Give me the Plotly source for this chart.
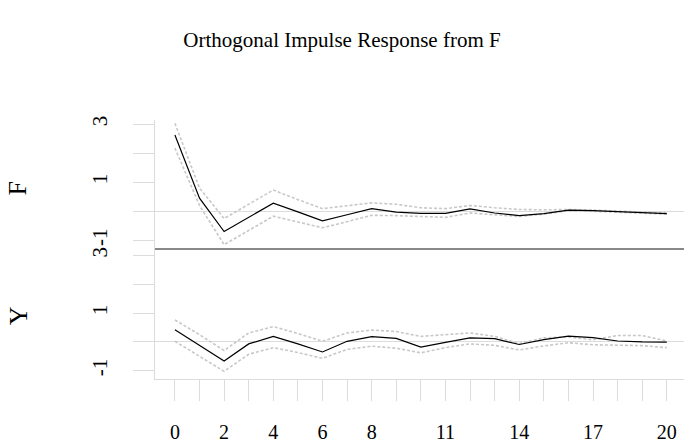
import plotly.graph_objects as go

horizon = list(range(21))

f_resp = [2.63, 0.45, -0.70, -0.21, 0.28, -0.02, -0.33, -0.12, 0.09, -0.03,
          -0.07, -0.07, 0.08, -0.06, -0.15, -0.08, 0.04, 0.02, -0.02, -0.05, -0.08]
f_upper = [3.03, 0.80, -0.25, 0.24, 0.73, 0.40, 0.09, 0.19, 0.29, 0.24,
           0.12, 0.09, 0.20, 0.12, 0.06, 0.05, 0.06, 0.04, 0.00, -0.03, -0.06]
f_lower = [2.18, 0.20, -1.15, -0.66, -0.17, -0.37, -0.57, -0.36, -0.14, -0.15,
           -0.19, -0.21, -0.06, -0.12, -0.18, -0.10, 0.02, 0.00, -0.04, -0.07, -0.10]

y_resp = [0.42, -0.11, -0.66, -0.07, 0.19, -0.07, -0.35, 0.02, 0.18, 0.12,
          -0.18, -0.02, 0.14, 0.11, -0.09, 0.08, 0.20, 0.15, 0.03, 0.00, -0.01]
y_upper = [0.76, 0.25, -0.30, 0.31, 0.53, 0.29, 0.02, 0.31, 0.41, 0.36,
           0.19, 0.25, 0.31, 0.19, -0.06, 0.14, 0.17, 0.07, 0.22, 0.22, 0.03]
y_lower = [0.02, -0.50, -1.02, -0.43, -0.20, -0.37, -0.57, -0.26, -0.15, -0.22,
           -0.38, -0.20, -0.07, -0.12, -0.28, -0.14, -0.03, -0.10, -0.12, -0.13, -0.20]

y_tickvals = [-1, 0, 1, 2, 3]
y_ticktext = ["-1", "", "1", "", "3"]
x_tickvals = list(range(21))
x_labeled = [0, 2, 4, 6, 8, 11, 14, 17, 20]
x_ticktext = [str(v) if v in x_labeled else "" for v in x_tickvals]

title_text = "Orthogonal Impulse Response from F"
panel_names = ["F", "Y"]

FONT = "Liberation Serif"
LIGHT = "#dcdcdc"
BAND = "#c8c8c8"

fig = go.Figure()

def add_panel(resp, up, lo, xa, ya):
    for s in (up, lo):
        fig.add_trace(go.Scatter(x=horizon, y=s, mode="lines", xaxis=xa, yaxis=ya,
                                 line=dict(color=BAND, width=1.6, dash="3px,2px"),
                                 showlegend=False, hoverinfo="skip"))
    fig.add_trace(go.Scatter(x=horizon, y=resp, mode="lines", xaxis=xa, yaxis=ya,
                             line=dict(color="black", width=1.2),
                             showlegend=False))

add_panel(f_resp, f_upper, f_lower, "x", "y")
add_panel(y_resp, y_upper, y_lower, "x2", "y2")

W, H = 684, 443
x0 = 155
top_t, mid, bot_b = 118, 248, 382

def py(pix):
    return (H - pix) / H

xr = [-0.81, 20.7]

yaxis_common = dict(
    tickvals=y_tickvals, ticktext=y_ticktext, tickangle=-90,
    ticks="outside", ticklen=21, tickcolor=LIGHT, tickwidth=1,
    showline=True, linecolor=LIGHT, linewidth=1,
    showgrid=False, zeroline=True, zerolinecolor=LIGHT, zerolinewidth=1,
    tickfont=dict(family=FONT, size=21, color="black"),
    ticklabelstandoff=18,
    fixedrange=True,
)

fig.update_layout(
    width=W, height=H,
    margin=dict(l=0, r=0, t=0, b=0),
    paper_bgcolor="white", plot_bgcolor="white",
    title=dict(text=title_text, x=0.5, xanchor="center", y=1 - 40 / H, yanchor="middle",
               font=dict(family=FONT, size=21, color="black")),
    xaxis=dict(domain=[x0 / W, 1], range=xr, anchor="y",
               showticklabels=False, ticks="", showline=True, linecolor="#888888",
               linewidth=2, showgrid=False, zeroline=False),
    yaxis=dict(domain=[py(mid), py(top_t)], range=[-1.25, 3.15], anchor="x", **yaxis_common),
    xaxis2=dict(domain=[x0 / W, 1], range=xr, anchor="y2",
                tickvals=x_tickvals, ticktext=x_ticktext,
                ticks="outside", ticklen=21, tickcolor=LIGHT, tickwidth=1,
                showline=True, linecolor=LIGHT, linewidth=1, showgrid=False, zeroline=False,
                tickfont=dict(family=FONT, size=20, color="black"), ticklabelstandoff=14),
    yaxis2=dict(domain=[py(bot_b), py(mid)], range=[-1.29, 3.27], anchor="x2", **yaxis_common),
    font=dict(family=FONT),
)

for name, yc in zip(panel_names, [188, 318]):
    fig.add_annotation(text=name, xref="paper", yref="paper", x=18 / W, y=py(yc),
                       xanchor="center", yanchor="middle",
                       showarrow=False, textangle=-90,
                       font=dict(family=FONT, size=26, color="black"))

fig.write_html("out.html", config={"displayModeBar": False},
               post_script="document.body.style.margin='0';")
